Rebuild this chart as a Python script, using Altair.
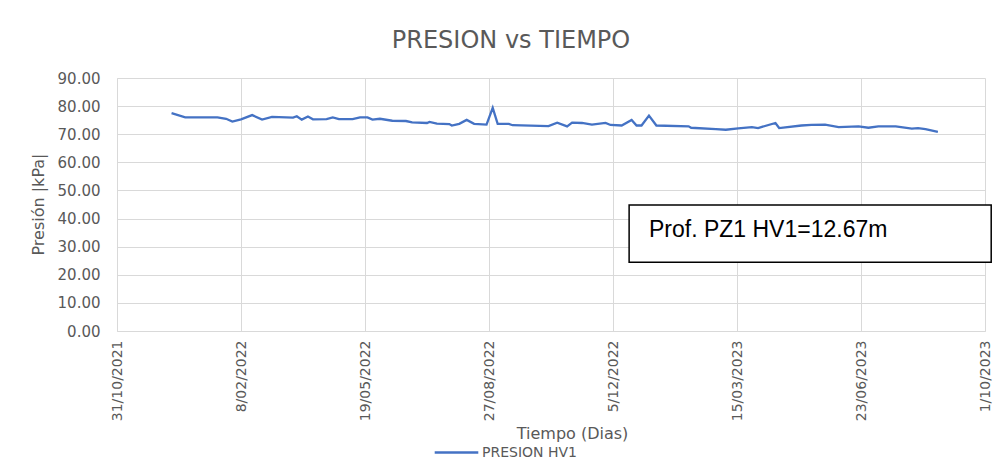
import altair as alt
import pandas as pd

# ---- data ----
fechas = [
    "2021-12-14", "2021-12-25", "2022-01-20", "2022-01-27", "2022-02-01", "2022-02-08",
    "2022-02-17", "2022-02-25", "2022-03-05", "2022-03-22", "2022-03-25", "2022-03-29",
    "2022-04-03", "2022-04-07", "2022-04-18", "2022-04-23", "2022-04-28", "2022-05-09",
    "2022-05-15", "2022-05-21", "2022-05-25", "2022-05-31", "2022-06-10", "2022-06-21",
    "2022-06-26", "2022-07-08", "2022-07-10", "2022-07-16", "2022-07-26", "2022-07-28",
    "2022-08-03", "2022-08-09", "2022-08-15", "2022-08-25", "2022-08-30", "2022-09-03",
    "2022-09-12", "2022-09-15", "2022-10-14", "2022-10-21", "2022-10-29", "2022-11-02",
    "2022-11-10", "2022-11-18", "2022-11-29", "2022-12-03", "2022-12-12", "2022-12-20",
    "2022-12-24", "2022-12-28", "2023-01-03", "2023-01-09", "2023-02-04", "2023-02-06",
    "2023-02-26", "2023-03-06", "2023-03-16", "2023-03-27", "2023-04-01", "2023-04-15",
    "2023-04-18", "2023-05-06", "2023-05-14", "2023-05-25", "2023-06-05", "2023-06-21",
    "2023-06-29", "2023-07-07", "2023-07-21", "2023-08-03", "2023-08-08", "2023-08-14",
    "2023-08-24",
]
presion = [
    77.5, 76.0, 76.0, 75.5, 74.5, 75.3,
    76.8, 75.2, 76.2, 75.9, 76.4, 75.2,
    76.3, 75.3, 75.4, 76.0, 75.4, 75.4,
    76.0, 76.0, 75.2, 75.5, 74.8, 74.7,
    74.2, 74.0, 74.4, 73.8, 73.6, 73.1,
    73.7, 75.1, 73.7, 73.4, 79.4, 73.7,
    73.7, 73.2, 72.9, 74.1, 72.8, 74.1,
    74.0, 73.4, 74.0, 73.3, 73.1, 75.1,
    73.1, 73.1, 76.6, 73.1, 72.8, 72.3,
    71.8, 71.6, 72.1, 72.5, 72.2, 74.0,
    72.2, 73.1, 73.3, 73.4, 72.5, 72.8,
    72.3, 72.8, 72.8, 72.0, 72.2, 71.8,
    70.8,
]
serie = "PRESION HV1"
tick_fechas = [(2021, 10, 31), (2022, 2, 8), (2022, 5, 19), (2022, 8, 27),
               (2022, 12, 5), (2023, 3, 15), (2023, 6, 23), (2023, 10, 1)]
y_ticks = [0, 10, 20, 30, 40, 50, 60, 70, 80, 90]

nota_texto = "Prof. PZ1 HV1=12.67m"
nota_caja_x = ["2022-12-18", "2023-10-06"]
nota_caja_y = [24.5, 44.8]
nota_texto_x = "2023-01-03"
nota_texto_y = 33.4

df = pd.DataFrame({"fecha": fechas, "presion": presion, "serie": serie})
nota = pd.DataFrame({
    "fecha": [nota_caja_x[0]], "fecha2": [nota_caja_x[1]],
    "presion": [nota_caja_y[0]], "presion2": [nota_caja_y[1]],
    "tx": [nota_texto_x], "ty": [nota_texto_y], "t": [nota_texto],
})

GRAY = "#595959"
FONT = "DejaVu Sans"

xscale = alt.Scale(type="utc", domain=[alt.DateTime(year=2021, month=10, date=31, utc=True),
                                       alt.DateTime(year=2023, month=10, date=1, utc=True)])
yscale = alt.Scale(domain=[0, 90], nice=False, zero=True)

x_axis = alt.Axis(
    values=[alt.DateTime(year=a, month=m, date=d, utc=True) for a, m, d in tick_fechas],
    format="%-d/%m/%Y", labelAngle=-90, labelFontSize=14, labelColor=GRAY, labelFont=FONT,
    ticks=False, labelPadding=9, grid=True, gridColor="#d9d9d9", domainColor="#d9d9d9",
    title="Tiempo (Dias)", titleFontSize=16, titleFontWeight="normal", titleColor=GRAY,
    titleFont=FONT, titleX=455, titleY=107, titleBaseline="alphabetic", titleAlign="center",
    labelOverlap=False, labelFlush=False,
)
y_axis = alt.Axis(
    values=y_ticks, format=".2f", labelFontSize=15, labelColor=GRAY, labelFont=FONT,
    ticks=False, labelPadding=17, grid=True, gridColor="#d9d9d9", domainColor="#d9d9d9",
    title="Presión |kPa|", titleFontSize=16, titleFontWeight="normal", titleColor=GRAY,
    titleFont=FONT, titleX=-74, titleY=126, titleAlign="center", titleBaseline="alphabetic",
    labelOverlap=False, labelFlush=False,
)

X = alt.X("fecha:T", scale=xscale, axis=x_axis)
Y = alt.Y("presion:Q", scale=yscale, axis=y_axis)

linea = alt.Chart(df).mark_line(strokeWidth=2.3).encode(
    x=X, y=Y,
    color=alt.Color("serie:N", scale=alt.Scale(range=["#4472C4"]), legend=alt.Legend(
        title=None, orient="none", legendX=316, legendY=351, symbolType="stroke",
        symbolSize=1900, symbolStrokeWidth=2.5, labelFontSize=14, labelColor=GRAY,
        labelFont=FONT, labelOffset=2,
    )),
)

caja = alt.Chart(nota).mark_rect(fill="white", stroke="black", strokeWidth=1.5).encode(
    x=X, x2="fecha2:T", y=Y, y2="presion2:Q",
)
texto = alt.Chart(nota).mark_text(align="left", baseline="alphabetic", fontSize=23,
                                  font="Liberation Sans", color="black").encode(
    x=alt.X("tx:T", scale=xscale, axis=x_axis),
    y=alt.Y("ty:Q", scale=yscale, axis=y_axis),
    text="t:N",
)

chart = alt.layer(linea, caja, texto).properties(
    width=868, height=253,
    autosize=alt.AutoSizeParams(type="none"),
    padding={"left": 109, "top": 70, "right": 9, "bottom": 137},
    title=alt.TitleParams("PRESION vs TIEMPO", fontSize=24, fontWeight="normal", color=GRAY,
                          font=FONT, anchor="middle", dx=-40, offset=18),
).configure_view(stroke=None)

chart.save("out.html", embed_options={"renderer": "svg", "actions": False})
